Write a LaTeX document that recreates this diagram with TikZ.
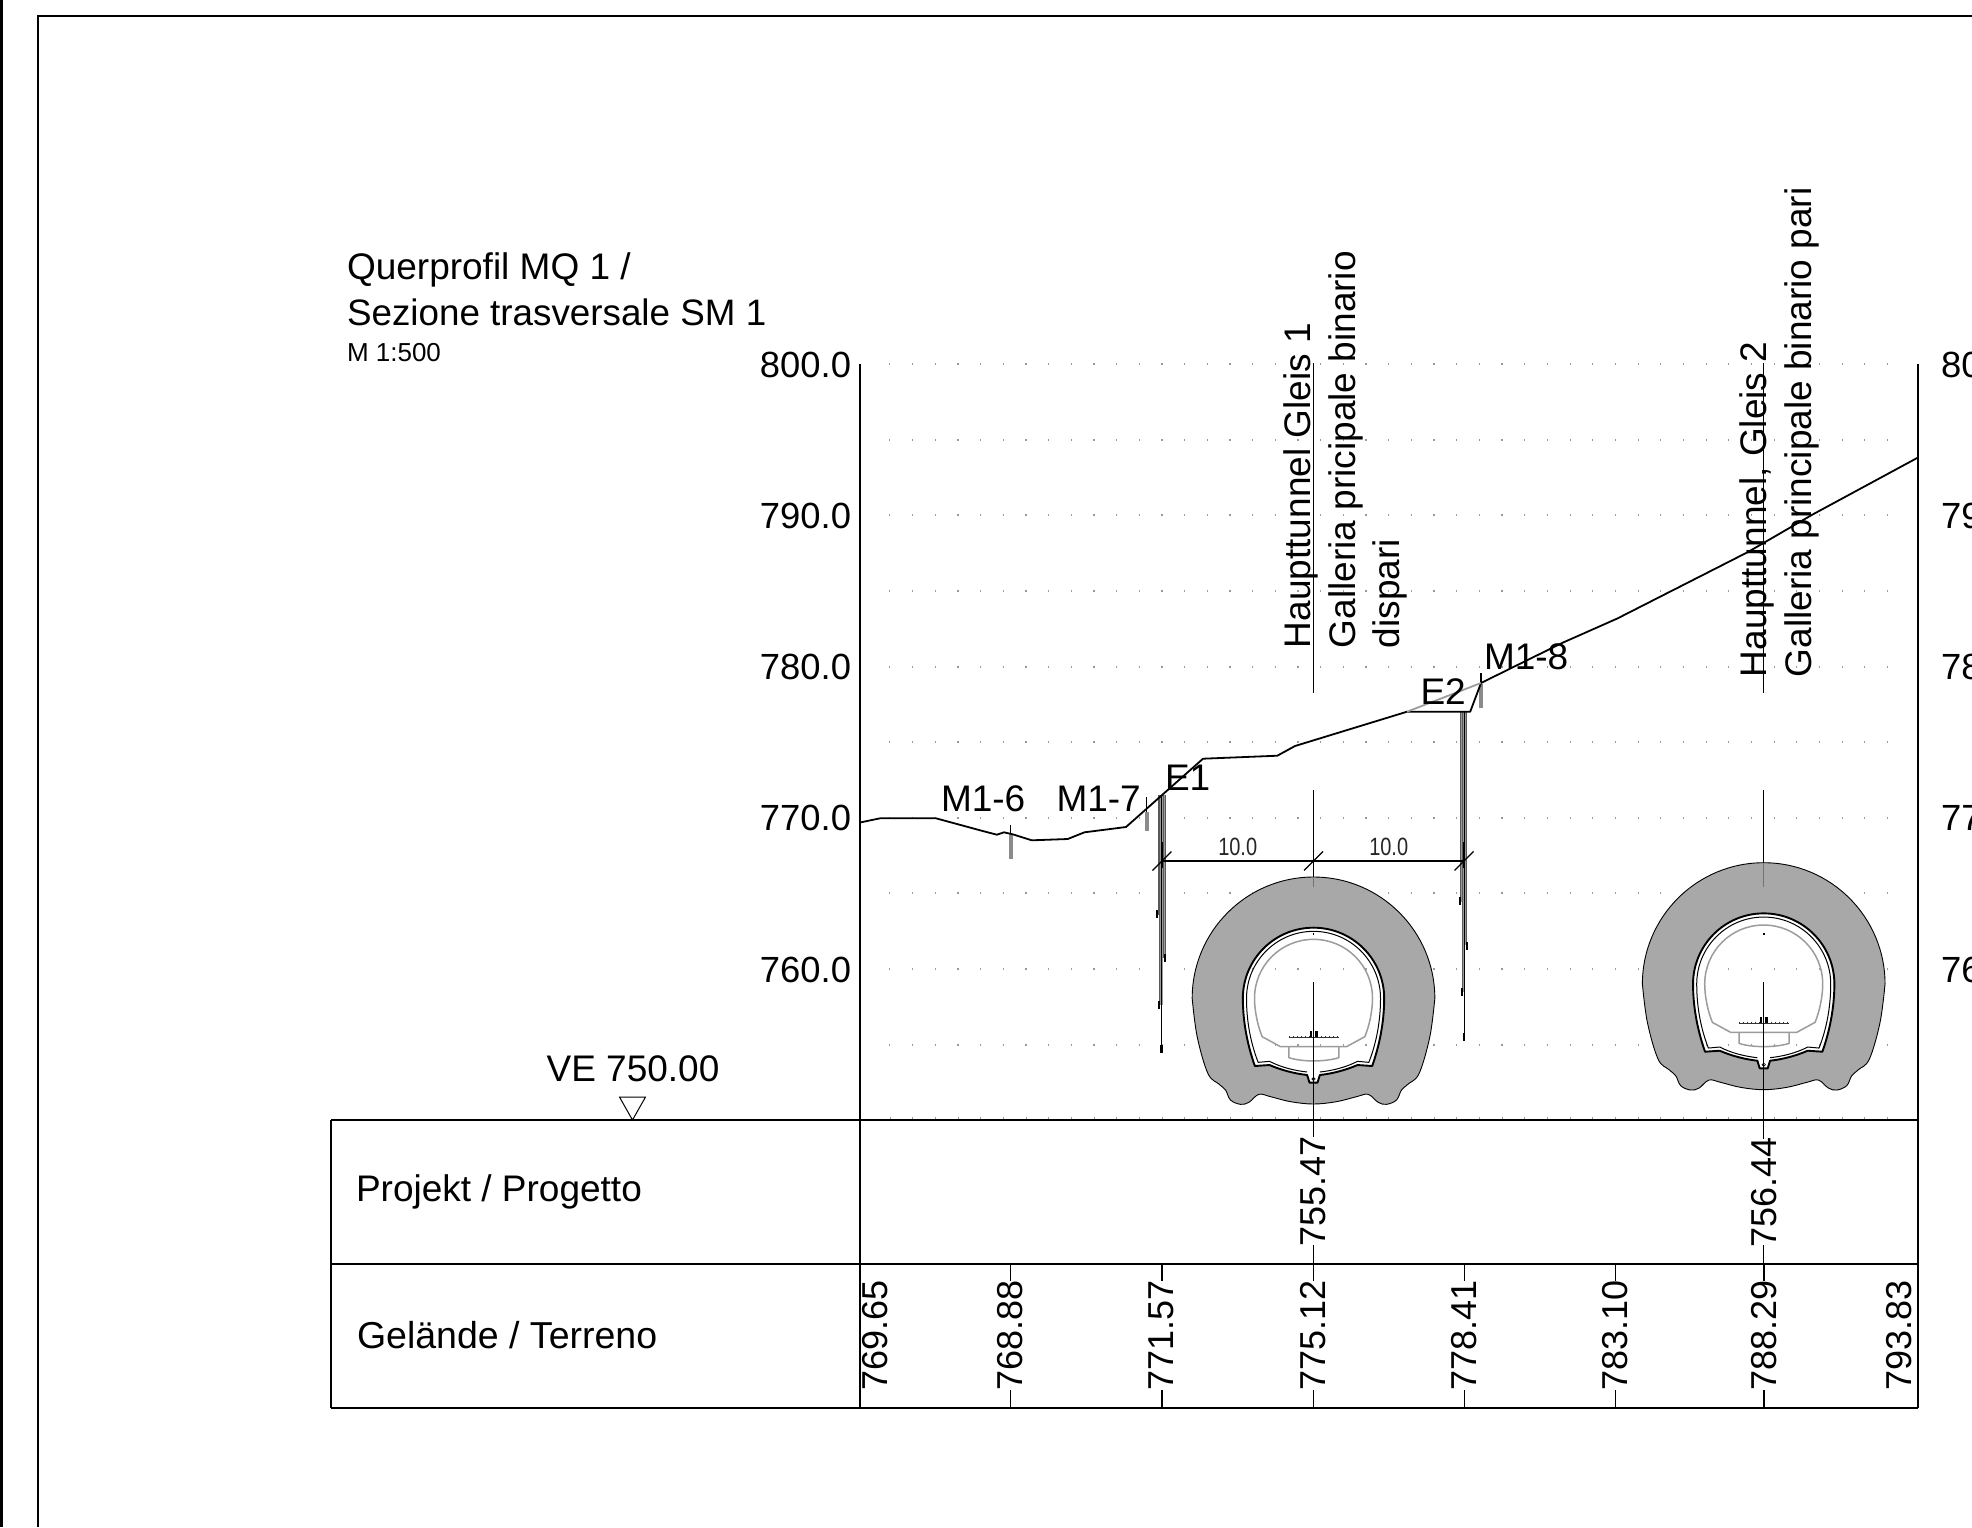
\documentclass[tikz,border=0pt]{standalone}
\usepackage{fontspec}
\setmainfont{Liberation Sans}
\definecolor{rockgray}{HTML}{A8A8A8}
\definecolor{clrgray}{HTML}{9C9C9C}
\definecolor{dotgray}{HTML}{9A9A9A}
\definecolor{wallgray}{HTML}{9A9A9A}
\tikzset{
  lab/.style={inner sep=0pt,outer sep=0pt,font=\fontsize{37}{37}\selectfont,text=black},
  axlab/.style={inner sep=0pt,outer sep=0pt,font=\fontsize{36.4}{36.4}\selectfont,text=black},
  smalllab/.style={inner sep=0pt,outer sep=0pt,font=\fontsize{26}{26}\selectfont},
  dimlab/.style={inner sep=0pt,outer sep=0pt,xscale=.8,font=\fontsize{25}{25}\selectfont,text=black!85},
  vlab/.style={lab,rotate=90,anchor=base west},
  vnum/.style={axlab,font=\fontsize{36}{36}\selectfont,rotate=90,anchor=center},
  hlab/.style={lab,anchor=base west},
  heavy/.style={line width=1.9pt,black},
  thinl/.style={line width=1.2pt,black},
  ground/.style={line width=1.8pt,black,line join=round},
  stub/.style={line width=4pt,wallgray!90!black},
  wall/.style={line width=1.7pt,wallgray},
  wedge/.style={line width=.4pt,black!65},
  tip/.style={line width=2.2pt,black}
}
\newcommand{\openpath}{(0,152) .. controls (-117,152) and (-212,247) .. (-212,364) .. controls (-212,440) and (-196,510) .. (-176,567) -- (-132,564) .. controls (-95,580) and (-55,590) .. (-19,594) -- (-12,617) -- (12,617) -- (19,594) .. controls (55,590) and (95,580) .. (132,564) -- (176,567) .. controls (196,510) and (212,440) .. (212,364) .. controls (212,247) and (117,152) .. (0,152) -- cycle}
\newcommand{\tunnelshape}[2]{%
\begin{scope}[shift={(#1,#2)},x=.33333pt,y=-.33333pt]
  \path[fill=rockgray,even odd rule] (0,0) .. controls (-201,0) and (-364,163) .. (-364,364)
    -- plot[smooth,tension=.6] coordinates {(-364,364)(-349,479)(-317,589)(-284,621)(-264,639)(-249,669)(-219,682)(-194,676)(-164,652)(-129,659)(-69,674)(0,681)(69,674)(129,659)(164,652)(194,676)(219,682)(249,669)(264,639)(284,621)(317,589)(349,479)(364,364)}
    .. controls (364,163) and (201,0) .. (0,0) -- cycle \openpath;
  \draw[line width=.9pt,black] (0,0) .. controls (-201,0) and (-364,163) .. (-364,364)
    -- plot[smooth,tension=.6] coordinates {(-364,364)(-349,479)(-317,589)(-284,621)(-264,639)(-249,669)(-219,682)(-194,676)(-164,652)(-129,659)(-69,674)(0,681)(69,674)(129,659)(164,652)(194,676)(219,682)(249,669)(264,639)(284,621)(317,589)(349,479)(364,364)}
    .. controls (364,163) and (201,0) .. (0,0) -- cycle;
  \draw[line width=1.9pt,black,line join=round] \openpath;
  \draw[line width=1pt,black,line join=round] (-19,585) .. controls (-55,581) and (-95,572) .. (-132,553) -- (-166,556) .. controls (-186,505) and (-201,440) .. (-201,364) .. controls (-201,253) and (-111,163) .. (0,163) .. controls (111,163) and (201,253) .. (201,364) .. controls (201,440) and (186,505) .. (166,556) -- (132,553) .. controls (95,572) and (55,581) .. (19,585);
  \draw[line width=.6pt,black] (0,606) circle (5);
  \draw[line width=1.5pt,clrgray,line join=round] (-99,509) -- (-154,479) .. controls (-168,445) and (-177,400) .. (-177,364) .. controls (-177,266) and (-98,187) .. (0,187) .. controls (98,187) and (177,266) .. (177,364) .. controls (177,400) and (168,445) .. (154,479) -- (99,509) -- cycle;
  \draw[line width=1.5pt,clrgray,line join=round] (-74,509) -- (-74,542) .. controls (-35,555) and (35,555) .. (76,542) -- (76,509);
  \draw[line width=.8pt,black!80] (-75,481) -- (75,481);
  \foreach \k in {-6,...,6} {\draw[line width=.5pt,black!80] ({\k*12},477) -- ({\k*12},484);}
  \fill[black] (-12,462) rectangle (-4,481);
  \fill[black] (4,462) rectangle (12,481);
\end{scope}}
\begin{document}
\begin{tikzpicture}[x=1pt,y=-1pt]
\useasboundingbox (0,0) rectangle (1972,1527);
\clip (0,0) rectangle (1972,1527);
\fill[white] (0,0) rectangle (1972,1527);
% sheet frame
\draw[line width=2.4pt,black] (1.5,0) -- (1.5,1527);
\draw[heavy] (38,1527) -- (38,16) -- (1972,16);
% grid dots
\foreach \r in {0,...,9} {\foreach \i in {-11,...,33} {
  \draw[line width=1.1pt,dotgray] ({1139.3+\i*22.67},{363.2+\r*75.6}) -- ({1139.3+\i*22.67},{365.2+\r*75.6});
}}
\foreach \i in {-11,...,33} {\draw[line width=.8pt,dotgray] ({1139.3+\i*22.67},1116.5) -- ({1139.3+\i*22.67},1120);}
% tunnels
\tunnelshape{1313.5}{877}
\tunnelshape{1763.7}{862.7}
\fill[black] (1312.7,933) rectangle (1314.3,935);
\fill[black] (1762.9,933) rectangle (1764.5,935);
% walls E1
\draw[wall] (1158.6,795) -- (1158.6,915);
\draw[wall] (1164.4,795) -- (1164.4,958);
\draw[wall] (1160.5,795) -- (1160.5,1005);
\draw[wall] (1162.5,795) -- (1162.5,1005);
\draw[wedge] (1157.7,795) -- (1157.7,915);
\draw[wedge] (1159.6,795) -- (1159.6,1005);
\draw[wedge,line width=.9pt,black] (1161.7,795) -- (1161.7,1050);
\draw[wedge] (1163.4,795) -- (1163.4,958);
\draw[wedge] (1165.3,795) -- (1165.3,958);
\draw[tip] (1156.8,910) -- (1156.8,918);
\draw[tip] (1164.8,954) -- (1164.8,962);
\draw[tip] (1159.3,1001) -- (1159.3,1009);
\draw[tip] (1161.4,1045) -- (1161.4,1053);
% walls E2
\draw[wall] (1461,712) -- (1461,902);
\draw[wall] (1463,712) -- (1463,992);
\draw[wall] (1465.4,712) -- (1465.4,945);
\draw[wedge] (1460,712) -- (1460,902);
\draw[wedge] (1462,712) -- (1462,992);
\draw[wedge,line width=.9pt,black] (1464,712) -- (1464,1037);
\draw[wedge] (1466.3,712) -- (1466.3,945);
\draw[tip] (1459.8,897) -- (1459.8,905);
\draw[tip] (1467,942) -- (1467,950);
\draw[tip] (1461.7,988) -- (1461.7,996);
\draw[tip] (1464,1033) -- (1464,1041);
% borehole stubs
\draw[stub] (1010.8,834) -- (1010.8,859);
\draw[thinl] (1010.8,825) -- (1010.8,834);
\draw[stub] (1146.7,812) -- (1146.7,831);
\draw[thinl] (1146.7,797) -- (1146.7,812);
\draw[stub] (1481,684) -- (1481,708);
\draw[thinl] (1481,673) -- (1481,684);
% ground line
\draw[ground] (860,822.5) -- (880,818.3) -- (936,818.3) -- (981.6,830.7) -- (996.9,834.7) -- (1004,832.3) -- (1012.7,834.3) -- (1031.8,840.3) -- (1067.7,839) -- (1084.4,832.3) -- (1126,827) -- (1203,758.7) -- (1277.3,755.7) -- (1295,746) -- (1407,711.7) -- (1470.2,711.7) -- (1481,683) -- (1562,643) -- (1617.3,618.5) -- (1748,552) -- (1812.4,514.6) -- (1918,457.5);
\draw[line width=1.8pt,clrgray] (1407,711.7) -- (1481,683);
% centre lines
\draw[thinl] (1313.5,363) -- (1313.5,693);
\draw[thinl] (1313.5,790) -- (1313.5,877);
\draw[line width=1pt,black!55] (1313.5,877) -- (1313.5,887);
\draw[thinl] (1313.5,982) -- (1313.5,1137);
\draw[thinl] (1313.5,1245) -- (1313.5,1281);
\draw[thinl] (1313.5,1390) -- (1313.5,1408);
\draw[thinl] (1763.7,363) -- (1763.7,693);
\draw[thinl] (1763.7,790) -- (1763.7,863);
\draw[line width=1pt,black!55] (1763.7,863) -- (1763.7,887);
\draw[thinl] (1763.7,982) -- (1763.7,1139);
\draw[thinl] (1763.7,1245) -- (1763.7,1281);
\draw[thinl] (1763.7,1390) -- (1763.7,1408);
% dimension line
\draw[line width=1.3pt,black] (1162,861) -- (1464,861);
\foreach \d in {1162,1313.5,1464} {
  \draw[line width=1.3pt,black] ({\d-9.5},870.5) -- ({\d+9.5},851.5);
  \draw[line width=1.6pt,black] (\d,842) -- (\d,868);
}
% table and axes
\draw[heavy] (860,364) -- (860,1408);
\draw[heavy] (1918,364) -- (1918,1408);
\draw[heavy] (331,1120) -- (1918,1120);
\draw[heavy] (331,1264) -- (1918,1264);
\draw[heavy] (331,1407.7) -- (1918,1407.7);
\draw[heavy] (331,1120) -- (331,1407.7);
% table ticks
\foreach \t in {1010.5,1162,1464.5,1615.5,1764} {
  \draw[thinl] (\t,1264) -- (\t,1281);
  \draw[thinl] (\t,1390) -- (\t,1408);
}
% VE marker
\draw[line width=1pt,black,line join=miter,fill=white] (619.5,1097) -- (645.5,1097) -- (632.5,1120) -- cycle;
% texts
\node[hlab] (t1) at (347,279) {Querprofil MQ 1 /};
\node[hlab,font=\fontsize{36.8}{36.8}\selectfont] (t2) at (347,325) {Sezione trasversale SM 1};
\node[smalllab,anchor=base west] (t3) at (347,361.5) {M 1:500};
\node[axlab,anchor=east] (l800) at (851,365) {800.0};
\node[axlab,anchor=east] (l790) at (851,516) {790.0};
\node[axlab,anchor=east] (l780) at (851,667) {780.0};
\node[axlab,anchor=east] (l770) at (851,818) {770.0};
\node[axlab,anchor=east] (l760) at (851,969.5) {760.0};
\node[axlab,anchor=west] (r800) at (1941,365) {800.0};
\node[axlab,anchor=west] (r790) at (1941,516) {790.0};
\node[axlab,anchor=west] (r780) at (1941,667) {780.0};
\node[axlab,anchor=west] (r770) at (1941,818) {770.0};
\node[axlab,anchor=west] (r760) at (1941,969.5) {760.0};
\node[lab,anchor=base] (ve) at (633,1081.7) {VE 750.00};
\node[hlab] (proj) at (356,1201.7) {Projekt / Progetto};
\node[hlab,font=\fontsize{37.5}{37.5}\selectfont] (gel) at (357,1348) {Gelände / Terreno};
\node[hlab] (m6) at (941,811) {M1-6};
\node[hlab] (m7) at (1056.5,811) {M1-7};
\node[hlab] (e1) at (1165,790.7) {E1};
\node[hlab] (e2) at (1420.5,704) {E2};
\node[hlab] (m8) at (1484,669.3) {M1-8};
\node[vlab] (h1) at (1310.6,648) {Haupttunnel Gleis 1};
\node[vlab] (g1) at (1355.6,648) {Galleria pricipale binario};
\node[vlab] (d1) at (1399,648) {dispari};
\node[vlab] (h2) at (1766.5,677) {Haupttunnel, Gleis 2};
\node[vlab] (g2) at (1811,677) {Galleria principale binario pari};
\node[dimlab,anchor=base] (dim1) at (1237.7,855) {10.0};
\node[dimlab,anchor=base] (dim2) at (1388.7,855) {10.0};
\node[vnum] (p1) at (1313.5,1191) {755.47};
\node[vnum] (p2) at (1764,1192) {756.44};
\node[vnum] (g769) at (875,1335.5) {769.65};
\node[vnum] (g768) at (1010.5,1335.5) {768.88};
\node[vnum] (g771) at (1161.5,1335.5) {771.57};
\node[vnum] (g775) at (1313.5,1335.5) {775.12};
\node[vnum] (g778) at (1464.5,1335.5) {778.41};
\node[vnum] (g783) at (1615.5,1335.5) {783.10};
\node[vnum] (g788) at (1764,1335.5) {788.29};
\node[vnum] (g793) at (1899,1335.5) {793.83};
\end{tikzpicture}
\end{document}
